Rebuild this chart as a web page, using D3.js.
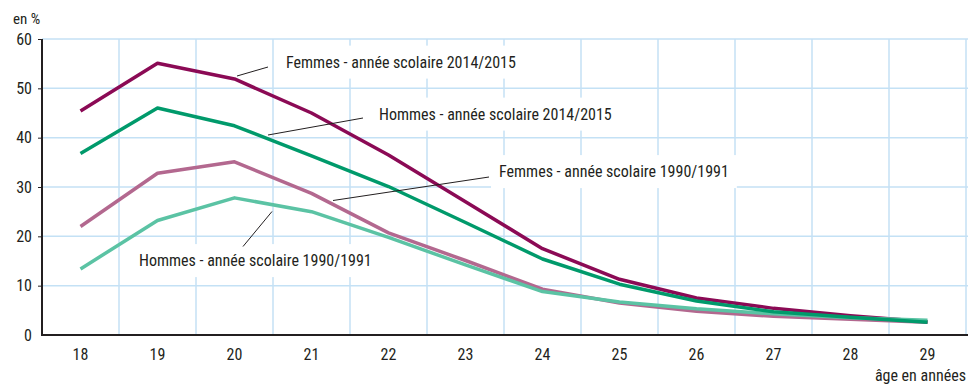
<!DOCTYPE html>
<html lang="fr">
<head>
<meta charset="utf-8">
<script src="https://cdn.jsdelivr.net/npm/d3@7"></script>
<style>
  html, body { margin: 0; padding: 0; background: #fff; }
  svg { display: block; }
  text { font-family: "Liberation Sans Narrow", "Roboto Condensed", "Liberation Sans", sans-serif; fill: #231f20; }
</style>
</head>
<body>
<svg id="chart" width="968" height="387"></svg>
<script>
// Âges (en années)
const ages = [18, 19, 20, 21, 22, 23, 24, 25, 26, 27, 28, 29];

// Taux de scolarisation par âge, en %
const femmes2014 = [45.4, 55.1, 51.9, 45.0, 36.5, 27.0, 17.5, 11.3, 7.5, 5.4, 3.9, 2.7];
const hommes2014 = [36.8, 46.0, 42.4, 36.3, 30.1, 22.8, 15.4, 10.3, 6.9, 4.7, 3.6, 2.6];
const femmes1990 = [22.0, 32.8, 35.1, 28.7, 20.7, 15.1, 9.3, 6.5, 4.8, 3.8, 3.2, 2.6];
const hommes1990 = [13.4, 23.2, 27.8, 25.0, 19.8, 14.2, 8.8, 6.7, 5.3, 4.3, 3.5, 3.0];

// Graduations de l'axe vertical
const yTicks = [0, 10, 20, 30, 40, 50, 60];

// Libellés des séries
const seriesNames = [
  "Femmes - année scolaire 1990/1991",
  "Hommes - année scolaire 1990/1991",
  "Femmes - année scolaire 2014/2015",
  "Hommes - année scolaire 2014/2015"
];

const series = [
  { name: seriesNames[0], values: femmes1990, color: "#b3688f" },
  { name: seriesNames[2], values: femmes2014, color: "#8b0a55" },
  { name: seriesNames[1], values: hommes1990, color: "#5bc3a4" },
  { name: seriesNames[3], values: hommes2014, color: "#009a6b" }
];

const svg = d3.select("#chart");
const plotLeft = 42, plotRight = 966, plotTop = 39, plotBottom = 335;

const x = d3.scaleBand().domain(ages).range([plotLeft, plotRight]).paddingInner(0).paddingOuter(0);
const y = d3.scaleLinear().domain([0, 60]).range([plotBottom, plotTop]);
const cx = a => x(a) + x.bandwidth() / 2;

const grid = svg.append("g").attr("stroke", "#c4e1f5").attr("stroke-width", 1.5);

// horizontal grid
grid.selectAll("line.h").data(yTicks.filter(t => t > 0)).join("line")
  .attr("x1", plotLeft).attr("x2", 968)
  .attr("y1", d => y(d)).attr("y2", d => y(d));

// vertical grid at category boundaries
grid.selectAll("line.v").data(ages).join("line")
  .attr("x1", d => x(d) + x.bandwidth()).attr("x2", d => x(d) + x.bandwidth())
  .attr("y1", plotTop).attr("y2", plotBottom);

// annotation layout: text anchor point and leader line
const notes = [
  { text: seriesNames[2], tx: 286, ty: 62, line: [[237, 76], [268, 67]] },
  { text: seriesNames[3], tx: 379, ty: 114, line: [[268, 135], [363, 118]] },
  { text: seriesNames[0], tx: 499, ty: 171.5, line: [[333, 200.5], [489, 177]] },
  { text: seriesNames[1], tx: 139, ty: 260.5, line: [[243, 246.5], [272, 211.5]] }
];

const noteG = svg.append("g");
const noteTexts = noteG.selectAll("text").data(notes).join("text")
  .attr("x", d => d.tx).attr("y", d => d.ty)
  .attr("dy", "0.35em")
  .attr("font-size", 16)
  .text(d => d.text);

// white boxes behind annotation texts (interrupt the grid)
noteTexts.each(function (d) {
  const b = this.getBBox();
  noteG.insert("rect", "text")
    .attr("x", b.x - 8).attr("y", b.y - 7)
    .attr("width", b.width + 16).attr("height", b.height + 14)
    .attr("fill", "#fff");
});

// data lines
const line = d3.line().x((d, i) => cx(ages[i])).y(d => y(d));
svg.append("g").selectAll("path").data(series).join("path")
  .attr("d", d => line(d.values))
  .attr("fill", "none")
  .attr("stroke", d => d.color)
  .attr("stroke-width", 3.5)
  .attr("stroke-linejoin", "round");

// leader lines
svg.append("g").selectAll("line").data(notes).join("line")
  .attr("x1", d => d.line[0][0]).attr("y1", d => d.line[0][1])
  .attr("x2", d => d.line[1][0]).attr("y2", d => d.line[1][1])
  .attr("stroke", "#231f20").attr("stroke-width", 1);

// axes
const yAxis = svg.append("g").attr("transform", `translate(${plotLeft},0)`)
  .call(d3.axisLeft(y).tickValues(yTicks).tickSize(4).tickPadding(6));
yAxis.select(".domain").attr("stroke", "#231f20").attr("stroke-width", 2)
  .attr("d", `M0,${plotTop}V${plotBottom}`);
yAxis.selectAll(".tick line").attr("stroke", "#231f20").attr("stroke-width", 1);
yAxis.selectAll(".tick text").attr("font-size", 16).attr("font-family", null).attr("fill", "#231f20");
yAxis.selectAll(".tick").filter(d => d === 0).select("line").remove();

const xAxis = svg.append("g").attr("transform", `translate(0,${plotBottom})`)
  .call(d3.axisBottom(x).tickSize(0).tickPadding(14));
xAxis.select(".domain").remove();
xAxis.selectAll(".tick text").attr("font-size", 16).attr("font-family", null).attr("fill", "#231f20");

svg.append("line").attr("x1", plotLeft - 1).attr("x2", 968)
  .attr("y1", plotBottom).attr("y2", plotBottom)
  .attr("stroke", "#231f20").attr("stroke-width", 2);

// axis titles
svg.append("text").attr("x", 13).attr("y", 24).attr("font-size", 15).text("en %");
svg.append("text").attr("x", 966).attr("y", 381).attr("text-anchor", "end")
  .attr("font-size", 16).text("âge en années");
</script>
</body>
</html>
